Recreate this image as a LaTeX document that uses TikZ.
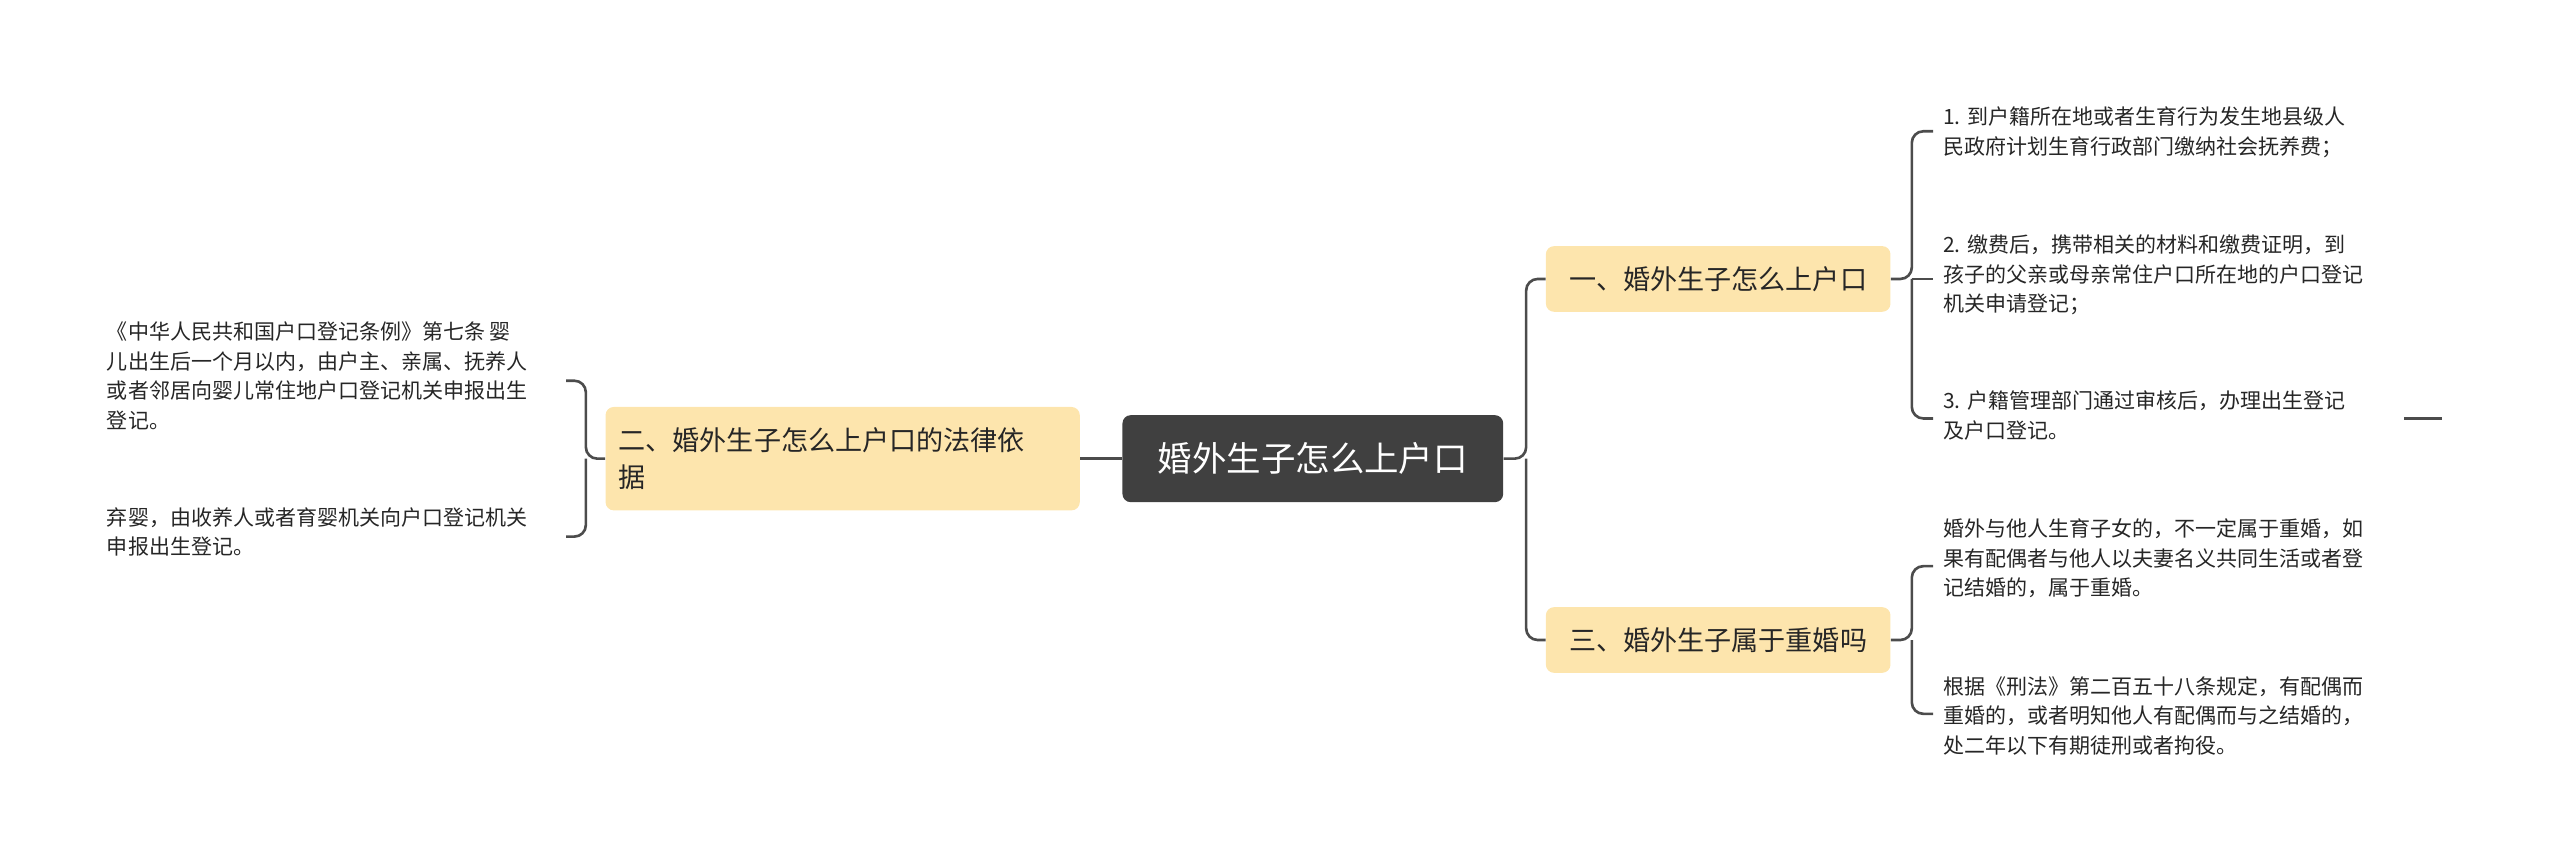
\documentclass[tikz,border=0pt]{standalone}
\usepackage{fontspec}
\setmainfont{Noto Sans CJK SC}
\begin{document}
\begin{tikzpicture}[x=1pt,y=-1pt,
  line/.style={draw=black!70,line width=1.6pt,rounded corners=7pt},
  branch/.style={fill=yellow!25!orange!30!white,fill=bnode,rounded corners=5pt,inner sep=0pt,font=\fontsize{16.5}{22}\selectfont,text=black!85},
  leaf/.style={anchor=north west,inner sep=0pt,align=left,font=\fontsize{12.8}{18}\selectfont,text=black!85}]
\definecolor{bnode}{HTML}{FDE5AD}
\useasboundingbox (0,0) rectangle (1560,526);
\node[fill=black!75,rounded corners=5pt,minimum width=232pt,minimum height=53pt,text=white,font=\fontsize{21}{26}\selectfont] (c) at (800,279.5) {婚外生子怎么上户口};
\node[branch,minimum width=210pt,minimum height=40pt] (b1) at (1047,170) {一、婚外生子怎么上户口};
\node[branch,minimum width=210pt,minimum height=40pt] (b3) at (1047,390) {三、婚外生子属于重婚吗};
\node[branch,minimum width=289pt,minimum height=63pt,text width=273pt,align=left] (b2) at (513.5,279.5) {二、婚外生子怎么上户口的法律依\\据};
% leaves
\node[leaf] (l1) at (1184,65) {1. 到户籍所在地或者生育行为发生地县级人\\民政府计划生育行政部门缴纳社会抚养费；};
\node[leaf] (l2) at (1184,143) {2. 缴费后，携带相关的材料和缴费证明，到\\孩子的父亲或母亲常住户口所在地的户口登记\\机关申请登记；};
\node[leaf] (l3) at (1184,238) {3. 户籍管理部门通过审核后，办理出生登记\\及户口登记。};
\node[leaf] (l4) at (1184,316) {婚外与他人生育子女的，不一定属于重婚，如\\果有配偶者与他人以夫妻名义共同生活或者登\\记结婚的，属于重婚。};
\node[leaf] (l5) at (1184,412) {根据《刑法》第二百五十八条规定，有配偶而\\重婚的，或者明知他人有配偶而与之结婚的，\\处二年以下有期徒刑或者拘役。};
\node[leaf] (l6) at (65,196) {《中华人民共和国户口登记条例》第七条 婴\\儿出生后一个月以内，由户主、亲属、抚养人\\或者邻居向婴儿常住地户口登记机关申报出生\\登记。};
\node[leaf] (l7) at (65,309) {弃婴，由收养人或者育婴机关向户口登记机关\\申报出生登记。};
% connectors
\draw[line] (c.east) -- (930,279.5) |- (b1.west);
\draw[line] (930,279.5) |- (b3.west);
\draw[line] (c.west) -- (b2.east);
\draw[line] (b1.east) -- (1165,170) |- (1178,80);
\draw[line] (1165,170) |- (1178,255);
\draw[line] (1165,170) -- (1178,170);
\draw[line] (b3.east) -- (1165,390) |- (1178,345);
\draw[line] (1165,390) |- (1178,435);
\draw[line] (b2.west) -- (357,279.5) |- (345,232);
\draw[line] (357,279.5) |- (345,327);
\coordinate (d1) at (1465,255);
\coordinate (d2) at (1488,255);
\draw[line] (d1) -- (d2);
\end{tikzpicture}
\end{document}
